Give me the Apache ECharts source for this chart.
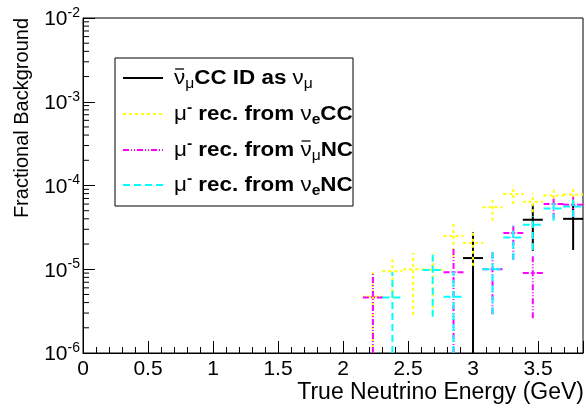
<!DOCTYPE html>
<html>
<head>
<meta charset="utf-8">
<script src="https://cdn.jsdelivr.net/npm/echarts@6/dist/echarts.min.js"></script>
<style>
  html, body { margin: 0; padding: 0; background: #fff; }
  #main { width: 586px; height: 410px; }
</style>
</head>
<body>
<div id="main"></div>
<script>
// bins of true energy (GeV), half width of one bin
const binHalfWidth = 0.077;

// anti-numu CC identified as numu
const numubarX = [3.00, 3.46, 3.77];
const numubarY = [1.36e-5, 3.9e-5, 4.0e-5];
const numubarLo = [0, 1.66e-5, 1.7e-5];
const numubarHi = [2.76e-5, 6.0e-5, 6.3e-5];

// mu- reconstructed from nue CC
const nueCCX = [2.23, 2.38, 2.54, 2.69, 2.85, 3.00, 3.15, 3.31, 3.46, 3.62, 3.77];
const nueCCY = [4.7e-6, 9.5e-6, 1.0e-5, 9.9e-6, 2.5e-5, 2.06e-5, 5.5e-5, 7.9e-5, 6.4e-5, 7.6e-5, 7.8e-5];
const nueCCLo = [0, 4.5e-6, 2.85e-6, 2.9e-6, 1.4e-5, 1.1e-5, 3.8e-5, 6.0e-5, 4.8e-5, 5.9e-5, 6.0e-5];
const nueCCHi = [9.2e-6, 1.45e-5, 1.56e-5, 1.55e-5, 3.6e-5, 3.0e-5, 7.2e-5, 1.0e-4, 8.1e-5, 9.5e-5, 9.8e-5];

// mu- reconstructed from anti-numu NC
const numuNCX = [2.23, 2.85, 3.15, 3.31, 3.46, 3.62, 3.77];
const numuNCY = [4.6e-6, 9.2e-6, 1.0e-5, 2.7e-5, 9.0e-6, 6.0e-5, 5.9e-5];
const numuNCLo = [0, 0, 2.9e-6, 1.3e-5, 2.6e-6, 4.0e-5, 4.2e-5];
const numuNCHi = [9.2e-6, 1.84e-5, 1.65e-5, 3.5e-5, 1.5e-5, 7.4e-5, 7.3e-5];

// mu- reconstructed from nue NC
const nueNCX = [2.38, 2.69, 2.85, 3.15, 3.31, 3.46, 3.62, 3.77];
const nueNCY = [4.6e-6, 9.8e-6, 4.7e-6, 1.0e-5, 2.4e-5, 3.4e-5, 5.3e-5, 5.6e-5];
const nueNCLo = [0, 2.7e-6, 0, 2.9e-6, 1.3e-5, 1.7e-5, 3.8e-5, 4.2e-5];
const nueNCHi = [9.2e-6, 1.55e-5, 9.4e-6, 1.65e-5, 3.3e-5, 4.3e-5, 6.3e-5, 6.8e-5];

const yMin = 1e-6, yMax = 1e-2;
const xMax = 3.846;

const FONT = '"Liberation Sans", Arial, sans-serif';

const toData = (xs, ys, lo, hi) => xs.map((x, i) => [x, ys[i], lo[i], hi[i]]);

// draws a histogram point with bin-width and vertical error bar
const errBars = (color, dash) => (params, api) => {
    const x = api.value(0), y = api.value(1);
    const lo = Math.max(api.value(2), yMin), hi = api.value(3);
    const l = api.coord([x - binHalfWidth, y]);
    const r = api.coord([x + binHalfWidth, y]);
    const b = api.coord([x, lo]);
    const t = api.coord([x, hi]);
    const style = { stroke: color, lineWidth: 2, lineDash: dash };
    return {
        type: 'group',
        children: [
            { type: 'line', shape: { x1: l[0], y1: l[1], x2: r[0], y2: r[1] }, style: style },
            { type: 'line', shape: { x1: b[0], y1: b[1], x2: t[0], y2: t[1] }, style: style },
        ],
    };
};

// log minor ticks (2..9 per decade)
const minorTicks = [];
for (let d = -6; d < -2; d++) {
    for (let k = 2; k <= 9; k++) minorTicks.push([0, k * Math.pow(10, d)]);
}

const seriesDefs = [
    { name: 'numubar', color: '#000000', dash: null, data: toData(numubarX, numubarY, numubarLo, numubarHi) },
    { name: 'nueCC', color: '#ffff00', dash: [3, 3], data: toData(nueCCX, nueCCY, nueCCLo, nueCCHi) },
    { name: 'numuNC', color: '#ff00ff', dash: [6, 2, 1, 2, 1, 2], data: toData(numuNCX, numuNCY, numuNCLo, numuNCHi) },
    { name: 'nueNC', color: '#00ffff', dash: [7, 4], data: toData(nueNCX, nueNCY, nueNCLo, nueNCHi) },
];

const chart = echarts.init(document.getElementById('main'));

const series = seriesDefs.map(s => ({
    name: s.name,
    type: 'custom',
    renderItem: errBars(s.color, s.dash),
    encode: { x: 0, y: 1 },
    data: s.data,
    z: 3,
}));

series.push({
    type: 'custom',
    silent: true,
    renderItem: (params, api) => {
        const p = api.coord([api.value(0), api.value(1)]);
        return { type: 'line', shape: { x1: p[0], y1: p[1], x2: p[0] + 6, y2: p[1] }, style: { stroke: '#000', lineWidth: 1 } };
    },
    encode: { x: 0, y: 1 },
    data: minorTicks,
    z: 2,
});

// legend
const legX = 115, legY = 58;
const rowY = [78, 114, 150, 185];
const textX = 174, stretch = 1.12;
const bSize = 20, gSize = 20, sSize = 14;
const rich = {
    b: { fontFamily: FONT, fontWeight: 'bold', fontSize: bSize, lineHeight: 26, verticalAlign: 'middle', color: '#000' },
    g: { fontFamily: FONT, fontSize: gSize, lineHeight: 26, verticalAlign: 'middle', color: '#000' },
    sub: { fontFamily: FONT, fontSize: sSize, lineHeight: 14, verticalAlign: 'bottom', color: '#000' },
    subb: { fontFamily: FONT, fontWeight: 'bold', fontSize: sSize, lineHeight: 14, verticalAlign: 'bottom', color: '#000' },
    sup: { fontFamily: FONT, fontWeight: 'bold', fontSize: sSize, lineHeight: 14, verticalAlign: 'top', color: '#000' },
};
const legendTexts = [
    '{g|\u03bd}{sub|\u03bc}{b|CC ID as }{g|\u03bd}{sub|\u03bc}',
    '{g|\u03bc}{sup|-}{b| rec. from }{g|\u03bd}{subb|e}{b|CC}',
    '{g|\u03bc}{sup|-}{b| rec. from }{g|\u03bd}{sub|\u03bc}{b|NC}',
    '{g|\u03bc}{sup|-}{b| rec. from }{g|\u03bd}{subb|e}{b|NC}',
];

// measure text to place the bar over anti-neutrino symbols
const ctx = document.createElement('canvas').getContext('2d');
const measure = (txt, font) => { ctx.font = font; return ctx.measureText(txt).width; };
const nuW = measure('\u03bd', gSize + 'px ' + FONT);
const row3Offset = measure('\u03bc', gSize + 'px ' + FONT)
    + measure('-', 'bold ' + sSize + 'px ' + FONT)
    + measure(' rec. from ', 'bold ' + bSize + 'px ' + FONT);
const nuBars = [[0, 0], [2, row3Offset]];

const graphic = [
    { type: 'rect', shape: { x: legX, y: legY, width: 238, height: 148 }, style: { fill: '#fff', stroke: '#000', lineWidth: 1 }, z: 10 },
    {
        type: 'text', x: 22, y: 18, rotation: Math.PI / 2,
        style: { text: 'Fractional Background', font: '20px ' + FONT, fill: '#000', textAlign: 'right', textVerticalAlign: 'middle' },
    },
    {
        type: 'text', x: 584, y: 393,
        style: { text: 'True Neutrino Energy (GeV)', font: '23px ' + FONT, fill: '#000', textAlign: 'right', textVerticalAlign: 'middle' },
    },
];
seriesDefs.forEach((s, i) => {
    graphic.push({
        type: 'line', z: 11,
        shape: { x1: 123, y1: rowY[i], x2: 163, y2: rowY[i] },
        style: { stroke: s.color, lineWidth: 2, lineDash: s.dash },
    });
    graphic.push({
        type: 'text', z: 11, x: textX, y: rowY[i], scaleX: stretch,
        style: { text: legendTexts[i], rich: rich, textVerticalAlign: 'middle', textAlign: 'left' },
    });
});
nuBars.forEach(([row, off]) => {
    const x1 = textX + (off + 1) * stretch;
    const x2 = textX + (off + nuW - 1) * stretch;
    graphic.push({
        type: 'line', z: 12,
        shape: { x1: x1, y1: rowY[row] - 9, x2: x2, y2: rowY[row] - 9 },
        style: { stroke: '#000', lineWidth: 1.3 },
    });
});

const option = {
    animation: false,
    backgroundColor: '#fff',
    grid: { left: 83, right: 3, top: 18, bottom: 57, show: true, borderColor: '#000', borderWidth: 1 },
    xAxis: {
        type: 'value',
        min: 0,
        max: xMax,
        interval: 0.5,
        axisLine: { lineStyle: { color: '#000', width: 1 } },
        axisTick: { inside: true, length: 12, lineStyle: { color: '#000' } },
        minorTick: { show: true, splitNumber: 5, length: 6, lineStyle: { color: '#000' } },
        splitLine: { show: false },
        axisLabel: { fontFamily: FONT, fontSize: 21, color: '#000', margin: 6, showMaxLabel: false },
    },
    yAxis: {
        type: 'log',
        logBase: 10,
        min: yMin,
        max: yMax,
        axisLine: { lineStyle: { color: '#000', width: 1 } },
        axisTick: { inside: true, length: 12, lineStyle: { color: '#000' } },
        splitLine: { show: false },
        axisLabel: {
            margin: 3,
            formatter: v => '{b|10}{s|' + Math.round(Math.log10(v)) + '}',
            rich: {
                b: { fontFamily: FONT, fontSize: 21, lineHeight: 24, verticalAlign: 'bottom', color: '#000' },
                s: { fontFamily: FONT, fontSize: 14, lineHeight: 14, verticalAlign: 'top', color: '#000' },
            },
        },
    },
    series: series,
    graphic: graphic,
};

chart.setOption(option);
</script>
</body>
</html>
